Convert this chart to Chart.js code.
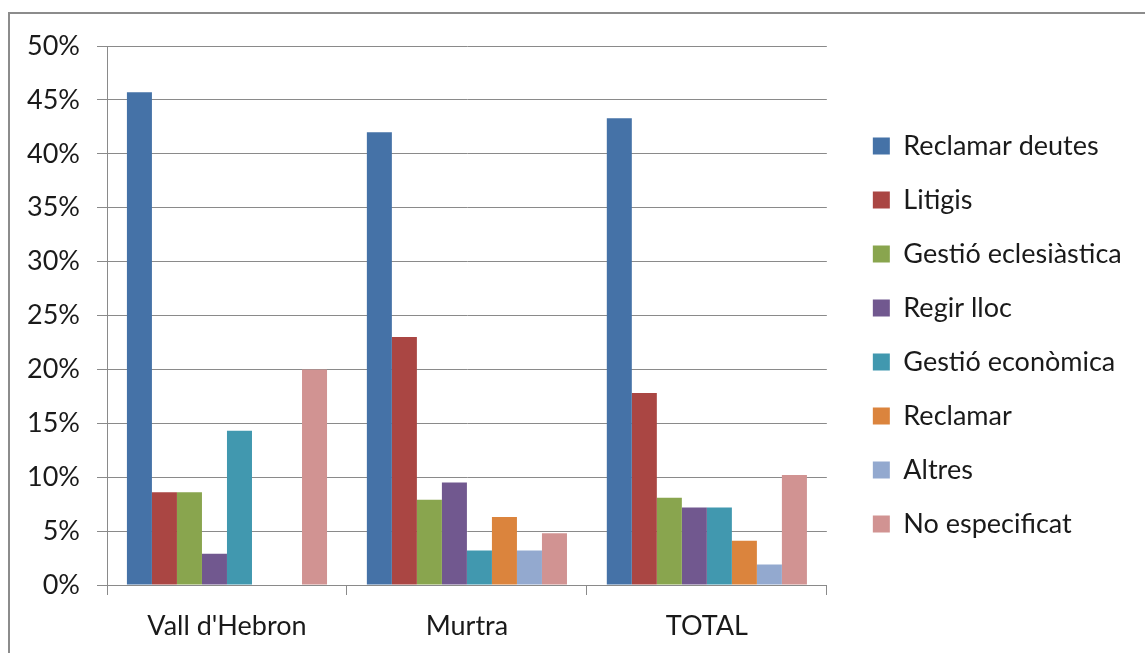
<!DOCTYPE html>
<html>
<head>
<meta charset="utf-8">
<script src="https://cdn.jsdelivr.net/npm/chart.js@4"></script>
<style>
  html, body { margin: 0; padding: 0; background: #fff; overflow: hidden; }
</style>
</head>
<body>
<canvas id="grafic" width="1145" height="653"></canvas>
<script>
// Dades (percentatges llegits del gràfic)
const categories = ["Vall d'Hebron", 'Murtra', 'TOTAL'];
const seriesNames = ['Reclamar deutes', 'Litigis', 'Gestió eclesiàstica', 'Regir lloc',
    'Gestió econòmica', 'Reclamar', 'Altres', 'No especificat'];
const reclamarDeutes = [45.7, 42.0, 43.3];
const litigis = [8.6, 23.0, 17.8];
const gestioEclesiastica = [8.6, 7.9, 8.1];
const regirLloc = [2.9, 9.5, 7.2];
const gestioEconomica = [14.3, 3.2, 7.2];
const reclamar = [0, 6.3, 4.1];
const altres = [0, 3.2, 1.9];
const noEspecificat = [20.0, 4.8, 10.2];
const yTickValues = [0, 5, 10, 15, 20, 25, 30, 35, 40, 45, 50];

const seriesValues = [reclamarDeutes, litigis, gestioEclesiastica, regirLloc,
    gestioEconomica, reclamar, altres, noEspecificat];
const colors = ['#4572A7', '#AA4643', '#89A54E', '#71588F', '#4198AF', '#DB843D', '#93A9CF', '#D19392'];

const gridColor = '#8a8a8a';
const fontFamily = 'Lato, "Open Sans", sans-serif';

// Marc exterior del gràfic
const marc = {
    id: 'marc',
    afterDraw(chart) {
        const c = chart.ctx;
        c.save();
        c.strokeStyle = '#8c8c8c';
        c.lineWidth = 2;
        c.strokeRect(9, 13, 1400, 1000);
        c.restore();
    }
};

// La llegenda queda limitada d'amplada pel layout; l'estirem fins a la vora
const llegendaAmple = {
    id: 'llegendaAmple',
    afterLayout(chart) {
        const lg = chart.legend;
        lg.right = chart.width;
        lg.width = chart.width - lg.left;
    }
};

new Chart(document.getElementById('grafic'), {
    type: 'bar',
    data: {
        labels: categories,
        datasets: seriesNames.map((name, i) => ({
            label: name,
            data: seriesValues[i],
            backgroundColor: colors[i],
            borderWidth: 0,
            categoryPercentage: 0.834,
            barPercentage: 1
        }))
    },
    options: {
        responsive: false,
        devicePixelRatio: 1,
        animation: false,
        layout: { padding: { top: 17, left: 0, right: 130, bottom: 0 } },
        plugins: {
            tooltip: { enabled: false },
            legend: {
                position: 'right',
                labels: {
                    color: '#1a1a1a',
                    font: { family: fontFamily, size: 27 },
                    boxWidth: 17,
                    boxHeight: 17,
                    padding: 27
                }
            }
        },
        scales: {
            x: {
                grid: { display: true, drawOnChartArea: false, offset: true, tickLength: 10, color: gridColor },
                border: { color: gridColor },
                ticks: { color: '#1a1a1a', font: { family: fontFamily, size: 27 }, padding: 15 },
                afterFit: s => { s.height = 68; }
            },
            xTop: {
                type: 'category',
                position: 'top',
                grid: { display: false },
                border: { display: false },
                ticks: { display: false },
                afterFit: s => { s.height = 29; }
            },
            y: {
                min: 0,
                max: 50,
                afterBuildTicks: s => { s.ticks = yTickValues.map(v => ({ value: v })); },
                grid: { color: gridColor, tickLength: 10 },
                border: { color: gridColor },
                ticks: {
                    color: '#1a1a1a',
                    font: { family: fontFamily, size: 27 },
                    padding: 17,
                    callback: v => v + '%'
                },
                afterFit: s => { s.width = 107; }
            },
            yRight: {
                type: 'linear',
                position: 'right',
                grid: { display: false },
                border: { display: false },
                ticks: { display: false },
                afterFit: s => { s.width = 19; }
            }
        }
    },
    plugins: [marc, llegendaAmple]
});
</script>
</body>
</html>
